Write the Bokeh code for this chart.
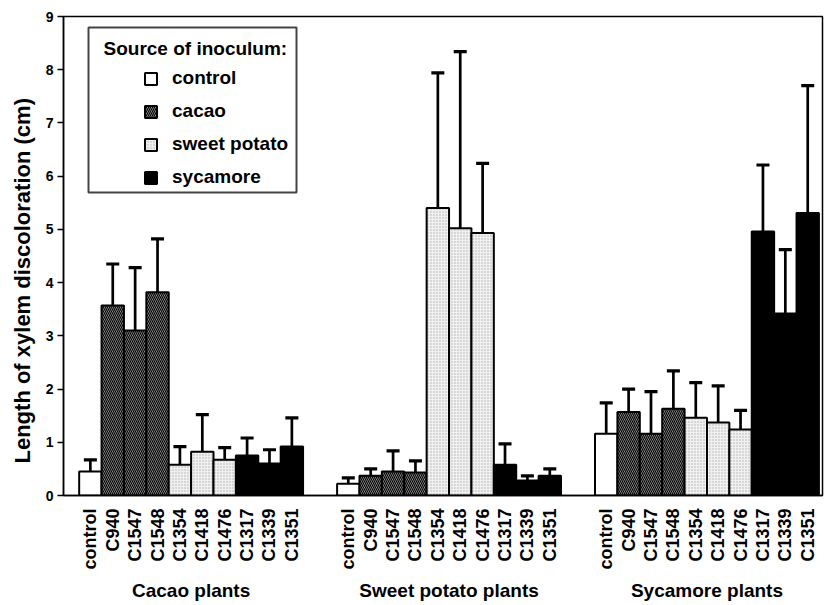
import math
from bokeh.plotting import figure
from bokeh.models import (ColumnDataSource, FixedTicker, LinearAxis, Whisker, TeeHead, Range1d,
                          Legend, LegendItem, BoxAnnotation, Label, Title)
from bokeh.embed import file_html
from bokeh.resources import INLINE

# ---------------- data ----------------
groups = ["Cacao plants", "Sweet potato plants", "Sycamore plants"]
strains = ["control", "C940", "C1547", "C1548", "C1354", "C1418", "C1476", "C1317", "C1339", "C1351"]
sources = ["control", "cacao", "cacao", "cacao", "sweet potato", "sweet potato", "sweet potato",
           "sycamore", "sycamore", "sycamore"]
source_order = ["control", "cacao", "sweet potato", "sycamore"]

cacao_mean = [0.45, 3.57, 3.10, 3.82, 0.58, 0.82, 0.67, 0.75, 0.60, 0.92]
cacao_err = [0.22, 0.78, 1.18, 1.00, 0.34, 0.70, 0.23, 0.33, 0.26, 0.54]
sweet_mean = [0.22, 0.37, 0.45, 0.43, 5.40, 5.02, 4.93, 0.58, 0.28, 0.37]
sweet_err = [0.11, 0.13, 0.39, 0.22, 2.54, 3.32, 1.31, 0.39, 0.09, 0.13]
syc_mean = [1.16, 1.57, 1.16, 1.63, 1.46, 1.37, 1.24, 4.96, 3.42, 5.31]
syc_err = [0.58, 0.43, 0.79, 0.71, 0.66, 0.69, 0.36, 1.25, 1.20, 2.39]

y_ticks = [0, 1, 2, 3, 4, 5, 6, 7, 8, 9]
y_label = "Length of xylem discoloration (cm)"
legend_title = "Source of inoculum:"

means = [cacao_mean, sweet_mean, syc_mean]
errs = [cacao_err, sweet_err, syc_err]

# ---------------- layout of categories on a numeric axis ----------------
GROUP_START = 0.7
GROUP_STEP = 11.52
xs, tops, uppers, srcs, names = [], [], [], [], []
group_centers = []
for g in range(len(groups)):
    start = GROUP_START + g * GROUP_STEP
    group_centers.append(round(start + len(strains) / 2, 3))
    for i, s in enumerate(strains):
        xs.append(round(start + i + 0.5, 3))
        tops.append(means[g][i])
        uppers.append(means[g][i] + errs[g][i])
        srcs.append(sources[i])
        names.append(s)

FONT = "Liberation Sans"

p = figure(width=824, height=603, output_backend="svg", toolbar_location=None,
           x_range=Range1d(0, 33.9), y_range=Range1d(0, 9),
           min_border_left=63, min_border_right=2, min_border_top=16, min_border_bottom=106)
p.grid.visible = False
p.outline_line_color = "black"
p.outline_line_width = 1.5
p.background_fill_color = "white"
p.border_fill_color = "white"

styles = {
    "control": dict(fill_color="white"),
    "cacao": dict(fill_color="#a8a8a8", hatch_pattern="\\", hatch_color="black",
                  hatch_scale=4, hatch_weight=1.2),
    "sweet potato": dict(fill_color="#f0f0f0", hatch_pattern="dot", hatch_color="#b0b0b0",
                         hatch_scale=3, hatch_weight=1),
    "sycamore": dict(fill_color="black"),
}

renderers = {}
for src in source_order:
    idx = [k for k, s in enumerate(srcs) if s == src]
    cds = ColumnDataSource(dict(x=[xs[k] for k in idx], top=[tops[k] for k in idx]))
    r = p.vbar(x="x", top="top", width=1.0, bottom=0, source=cds,
               line_color="black", line_width=2, **styles[src])
    renderers[src] = r

wsrc = ColumnDataSource(dict(x=xs, lower=tops, upper=uppers))
whisk = Whisker(source=wsrc, base="x", lower="lower", upper="upper",
                line_color="black", line_width=2.7,
                upper_head=TeeHead(size=13, line_width=3.2, line_color="black"),
                lower_head=None, level="annotation")
p.add_layout(whisk)

# y axis
p.yaxis.ticker = FixedTicker(ticks=y_ticks)
p.yaxis.major_label_text_font = FONT
p.yaxis.major_label_text_font_style = "bold"
p.yaxis.major_label_text_font_size = "14px"
p.yaxis.major_label_text_color = "black"
p.yaxis.major_label_standoff = 4
p.yaxis.major_tick_out = 6
p.yaxis.major_tick_in = 0
p.yaxis.minor_tick_line_color = None
p.yaxis.axis_line_width = 1.5
p.yaxis.major_tick_line_width = 1.5

ytitle = Title(text=y_label, align="left", offset=32, standoff=15,
               text_font=FONT, text_font_style="bold", text_font_size="22px", text_color="black")
p.add_layout(ytitle, "left")

# x axis: strain labels
xa = p.xaxis[0]
xa.ticker = FixedTicker(ticks=xs)
xa.major_label_overrides = {x: n for x, n in zip(xs, names)}
xa.major_label_orientation = math.pi / 2
xa.major_label_text_font = FONT
xa.major_label_text_font_style = "bold"
xa.major_label_text_font_size = "18px"
xa.major_label_text_color = "black"
xa.major_label_standoff = 13
xa.major_tick_out = 0
xa.major_tick_in = 0
xa.major_tick_line_color = None
xa.minor_tick_line_color = None
xa.axis_line_width = 1.5

# group labels
ga = LinearAxis(ticker=FixedTicker(ticks=group_centers),
                major_label_overrides={c: gname for c, gname in zip(group_centers, groups)},
                axis_line_color=None, major_tick_line_color=None, minor_tick_line_color=None,
                major_tick_out=0, major_tick_in=0,
                major_label_text_font=FONT, major_label_text_font_style="bold",
                major_label_text_font_size="19px", major_label_text_color="black",
                major_label_standoff=7)
p.add_layout(ga, "below")

# legend: framed box, title, indented items
box = BoxAnnotation(left=25, right=233, top=468, bottom=303,
                    left_units="screen", right_units="screen", top_units="screen", bottom_units="screen",
                    fill_color="white", fill_alpha=1.0, line_color="#444444", line_alpha=1.0,
                    line_width=2, level="annotation")
p.add_layout(box)
title = Label(x=40, y=447, x_units="screen", y_units="screen", text=legend_title,
              text_font=FONT, text_font_style="bold", text_font_size="19px",
              text_baseline="middle", text_color="black", level="annotation")
p.add_layout(title)

legend = Legend(items=[LegendItem(label=s, renderers=[renderers[s]]) for s in source_order],
                location=(80, 307), border_line_color=None, background_fill_alpha=0,
                padding=0, margin=0, spacing=11, glyph_width=15, glyph_height=15,
                label_standoff=14, label_height=20, label_text_font=FONT,
                label_text_font_style="bold", label_text_font_size="19px",
                label_text_color="black")
p.add_layout(legend, "center")

open("out.html", "w").write(file_html(p, INLINE))
